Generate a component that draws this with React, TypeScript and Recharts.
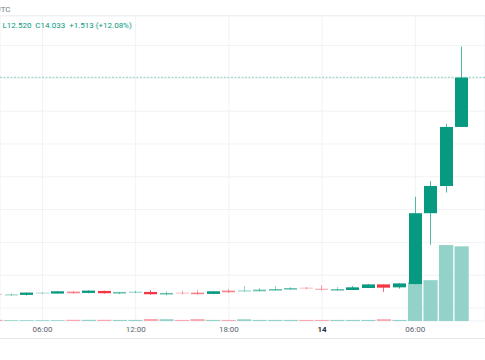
import React from 'react';
import { ComposedChart, Bar, XAxis, YAxis, CartesianGrid, ReferenceLine } from 'recharts';

// hourly candles (hour index from 00:00 on the 13th)
const hours = [3, 4, 5, 6, 7, 8, 9, 10, 11, 12, 13, 14, 15, 16, 17, 18, 19, 20, 21, 22, 23, 24, 25, 26, 27, 28, 29, 30, 31, 32, 33];
const opens = [7.43, 7.38, 7.40, 7.44, 7.44, 7.50, 7.46, 7.52, 7.44, 7.46, 7.49, 7.41, 7.47, 7.47, 7.43, 7.53, 7.50, 7.51, 7.53, 7.56, 7.62, 7.59, 7.53, 7.55, 7.61, 7.72, 7.63, 7.73, 9.89, 10.72, 12.52];
const highs = [7.44, 7.44, 7.47, 7.47, 7.52, 7.51, 7.54, 7.53, 7.49, 7.53, 7.55, 7.51, 7.51, 7.56, 7.51, 7.58, 7.67, 7.61, 7.67, 7.64, 7.64, 7.69, 7.64, 7.67, 7.73, 7.72, 7.76, 10.39, 10.87, 12.61, 14.97];
const lows = [7.39, 7.37, 7.38, 7.43, 7.44, 7.44, 7.45, 7.44, 7.42, 7.45, 7.40, 7.38, 7.41, 7.41, 7.42, 7.46, 7.50, 7.51, 7.53, 7.55, 7.57, 7.53, 7.53, 7.55, 7.61, 7.49, 7.59, 7.72, 8.93, 10.52, 12.52];
const closes = [7.40, 7.42, 7.47, 7.47, 7.51, 7.45, 7.53, 7.45, 7.49, 7.50, 7.42, 7.46, 7.44, 7.42, 7.51, 7.48, 7.54, 7.56, 7.58, 7.61, 7.59, 7.55, 7.58, 7.63, 7.72, 7.62, 7.75, 9.89, 10.72, 12.52, 14.033];
const volumes = [12, 8, 8, 8, 8, 12, 12, 12, 11, 11, 20, 18, 11, 19, 11, 11, 17, 11, 11, 11, 11, 11, 11, 11, 11, 18, 11, 390, 407, 757, 744];

const timeTicks = [6, 12, 18, 24, 30];
const timeLabels = ['06:00', '12:00', '18:00', '14', '06:00'];
const priceTicks = [7, 8, 9, 10, 11, 12, 13, 14, 15];
const lastClose = 14.033;
const legendLow = '12.520';
const legendClose = '14.033';
const legendChange = '+1.513 (+12.08%)';

const data = hours.map((h, i) => ({
  hour: h,
  open: opens[i],
  high: highs[i],
  low: lows[i],
  close: closes[i],
  volume: volumes[i],
}));

const FONT = 'Roboto, "Open Sans", sans-serif';

const CandleShape = (props: any) => {
  const { x, y, width, height, payload } = props;
  if (x == null || y == null || !payload) return null;
  const top = Math.min(y, y + height);
  const bot = Math.max(y, y + height);
  const { open, close, high, low } = payload;
  const span = high - low || 1;
  const py = (p: number) => top + ((high - p) / span) * (bot - top);
  const up = close >= open;
  const yO = py(open);
  const yC = py(close);
  const rawH = Math.abs(yO - yC);
  const bH = Math.max(rawH, 1);
  const bTop = (yO + yC) / 2 - bH / 2;
  const cx = Math.round(x + width / 2 - 0.5) + 0.5;
  const color = up ? '#089981' : '#f23645';
  const wick = up ? '#4fb9a3' : '#f26d78';
  const op = Math.max(0.35, Math.min(1, (rawH - 0.8) / 1.4));
  return (
    <g>
      <line x1={cx} x2={cx} y1={top} y2={bot} stroke={wick} strokeWidth={1} strokeOpacity={Math.max(op, 0.6)} />
      <rect x={cx - width / 2} y={bTop} width={width} height={bH} fill={color} fillOpacity={op} />
    </g>
  );
};

const VolShape = (props: any) => {
  const { x, y, width, height, payload } = props;
  if (x == null || y == null || !payload) return null;
  const up = payload.close >= payload.open;
  const top = Math.min(y, y + height);
  const h = Math.abs(height);
  return <rect x={x + 0.4} y={top} width={width - 0.8} height={h} fill={up ? '#92d2c8' : '#f8a8ae'} />;
};

const TimeTick = (props: any) => {
  const { x, y, payload } = props;
  const idx = timeTicks.indexOf(payload.value);
  const label = idx >= 0 ? timeLabels[idx] : '';
  const isDay = label.indexOf(':') < 0;
  return (
    <text
      x={x}
      y={y}
      dy="0.71em"
      textAnchor="middle"
      fill={isDay ? '#131722' : '#5d606b'}
      fontWeight={isDay ? 600 : 400}
      fontSize={8}
      fontFamily={FONT}
    >
      {label}
    </text>
  );
};

export default function App() {
  return (
    <div style={{ position: 'fixed', left: 0, top: 0, width: 485, height: 360, background: '#ffffff', overflow: 'hidden' }}>
      <div style={{ position: 'absolute', left: -4.5, top: 5, fontFamily: FONT, fontSize: 8, color: '#787b86', lineHeight: '10px' }}>UTC</div>
      <div style={{ position: 'absolute', left: 0, top: 15, width: 485, height: 1, background: '#eceef2' }} />
      <div style={{ position: 'absolute', left: 0, top: 338, width: 485, height: 1, background: '#e6e8ee' }} />
      <ComposedChart width={485} height={338} data={data} margin={{ top: 16, right: 0, bottom: 0, left: 0 }}>
        <CartesianGrid xAxisId="t" yAxisId="p" stroke="#f0f2f5" />
        <XAxis
          xAxisId="t"
          dataKey="hour"
          type="number"
          domain={[3.264, 34.488]}
          allowDataOverflow
          ticks={timeTicks}
          interval={0}
          tick={<TimeTick />}
          tickLine={false}
          axisLine={false}
          tickSize={0}
          tickMargin={5}
          height={17}
        />
        <XAxis xAxisId="v" dataKey="hour" type="number" domain={[3.264, 34.488]} allowDataOverflow hide />
        <YAxis yAxisId="p" domain={[6.604, 15.902]} allowDataOverflow ticks={priceTicks} hide />
        <YAxis yAxisId="v" domain={[0, 3040]} allowDataOverflow hide />
        <Bar xAxisId="v" yAxisId="v" dataKey="volume" barSize={15} shape={<VolShape />} isAnimationActive={false} />
        <ReferenceLine xAxisId="t" yAxisId="p" y={lastClose} stroke="#8fd2c4" strokeWidth={1} strokeDasharray="2 1.5" />
        <Bar
          xAxisId="t"
          yAxisId="p"
          dataKey={(d: any) => [d.low, d.high]}
          barSize={13}
          shape={<CandleShape />}
          isAnimationActive={false}
        />
      </ComposedChart>
      <div style={{ position: 'absolute', left: 2.5, top: 21, fontFamily: FONT, fontSize: 8, color: '#089981', lineHeight: '10px', whiteSpace: 'pre' }}>
        {'L' + legendLow + '  C' + legendClose + '  ' + legendChange}
      </div>
    </div>
  );
}
